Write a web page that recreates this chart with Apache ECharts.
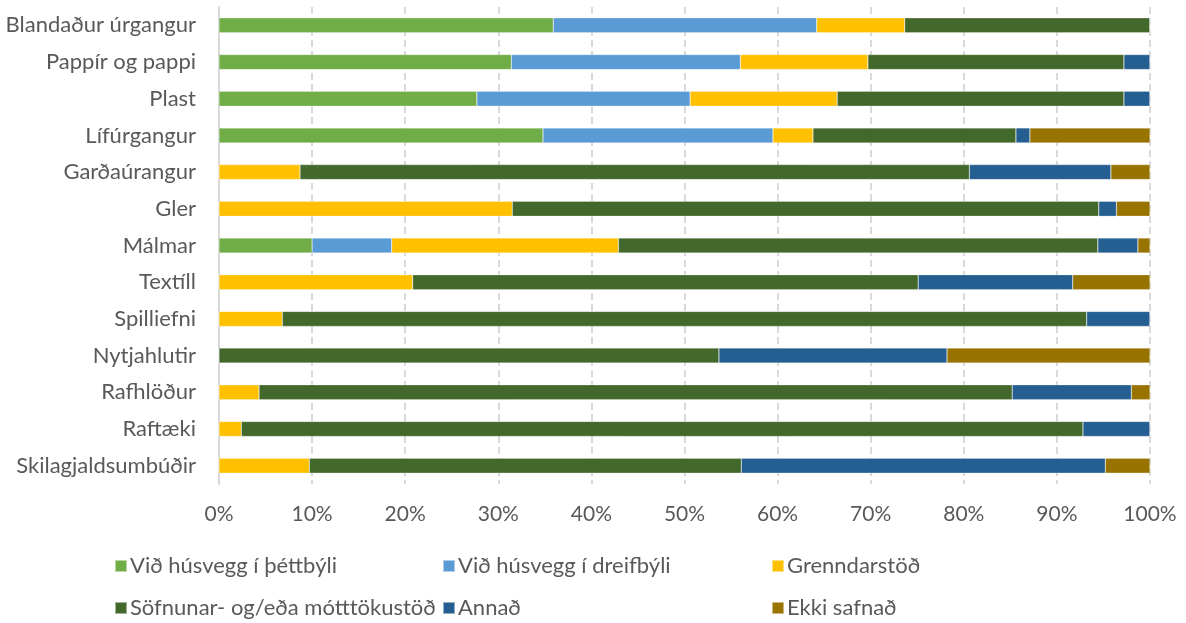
<!DOCTYPE html>
<html>
<head>
<meta charset="utf-8">
<script src="https://cdn.jsdelivr.net/npm/echarts@6/dist/echarts.min.js"></script>
<style>
  html, body { margin: 0; padding: 0; background: #fff; }
  #chart { width: 1186px; height: 623px; }
</style>
</head>
<body>
<div id="chart"></div>
<script>
// flokkar, efst til neðst
const categories = ['Blandaður úrgangur', 'Pappír og pappi', 'Plast', 'Lífúrgangur', 'Garðaúrangur', 'Gler',
  'Málmar', 'Textíll', 'Spilliefni', 'Nytjahlutir', 'Rafhlöður', 'Raftæki', 'Skilagjaldsumbúðir'];

const seriesNames = ['Við húsvegg í þéttbýli', 'Við húsvegg í dreifbýli', 'Grenndarstöð',
  'Söfnunar- og/eða mótttökustöð', 'Annað', 'Ekki safnað'];

// hlutfall (%) fyrir hvern flokk
const thettbyli   = [35.9, 31.4, 27.7, 34.8, 0, 0, 10.0, 0, 0, 0, 0, 0, 0];
const dreifbyli   = [28.3, 24.6, 22.9, 24.7, 0, 0, 8.55, 0, 0, 0, 0, 0, 0];
const grenndarstod = [9.45, 13.7, 15.8, 4.3, 8.7, 31.5, 24.35, 20.8, 6.8, 0, 4.3, 2.4, 9.7];
const mottokustod = [26.35, 27.5, 30.8, 21.8, 71.9, 63.0, 51.5, 54.3, 86.4, 53.7, 80.9, 90.4, 46.4];
const annad       = [0, 2.8, 2.8, 1.5, 15.2, 1.9, 4.3, 16.6, 6.8, 24.5, 12.8, 7.2, 39.1];
const ekkiSafnad  = [0, 0, 0, 12.9, 4.2, 3.6, 1.3, 8.3, 0, 21.8, 2.0, 0, 4.8];

const xTicks = [0, 10, 20, 30, 40, 50, 60, 70, 80, 90, 100];

const colors = ['#70AD47', '#5B9BD5', '#FFC000', '#43682B', '#255E91', '#997300'];
const allData = [thettbyli, dreifbyli, grenndarstod, mottokustod, annad, ekkiSafnad];

const FONT = 'Lato';
const chart = echarts.init(document.getElementById('chart'));

// legend: 3 dálkar, 2 raðir
const legendPos = [[114, 555], [442, 555], [771, 555], [114, 597], [442, 597], [771, 597]];
const legends = seriesNames.map((n, i) => ({
  data: [n],
  left: legendPos[i][0],
  top: legendPos[i][1],
  icon: 'rect',
  itemWidth: 12,
  itemHeight: 12,
  itemGap: 0,
  padding: 0,
  textStyle: { color: '#595959', fontSize: 22, fontFamily: FONT, padding: [0, 0, 0, -2] },
  selectedMode: false
}));

chart.setOption({
  animation: false,
  color: colors,
  textStyle: { fontFamily: FONT },
  grid: { left: 219, right: 36, top: 7, bottom: 139, containLabel: false },
  legend: legends,
  xAxis: {
    type: 'value',
    min: 0,
    max: 100,
    interval: 10,
    axisLine: { show: false },
    axisTick: { show: false },
    axisLabel: {
      formatter: v => xTicks.includes(v) ? v + '%' : '',
      color: '#595959',
      fontSize: 21,
      fontFamily: FONT,
      margin: 20
    },
    splitLine: {
      show: true,
      lineStyle: { color: '#D9D9D9', width: 2, type: [7, 4] }
    }
  },
  yAxis: {
    type: 'category',
    data: categories,
    inverse: true,
    axisLine: { show: true, lineStyle: { color: '#D9D9D9', width: 2 } },
    axisTick: { show: false },
    axisLabel: { color: '#595959', fontSize: 22, fontFamily: FONT, margin: 23 }
  },
  series: seriesNames.map((n, i) => ({
    name: n,
    type: 'bar',
    stack: 'total',
    barWidth: 15,
    data: allData[i],
    itemStyle: { color: colors[i], borderColor: 'rgba(255,255,255,0.5)', borderWidth: 0.5 }
  }))
});
</script>
</body>
</html>
